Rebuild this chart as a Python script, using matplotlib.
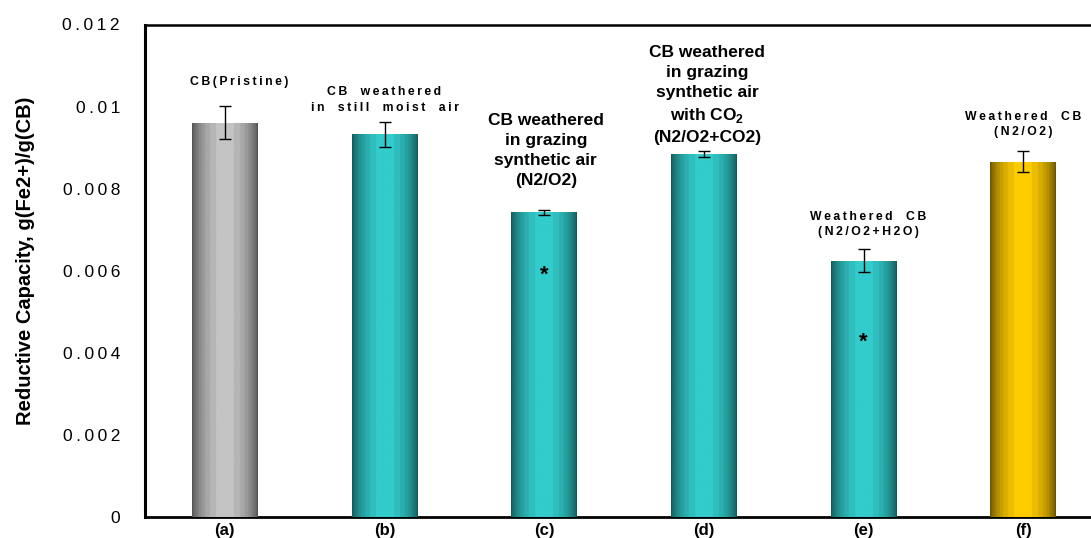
import numpy as np
import matplotlib
matplotlib.use("Agg")
import matplotlib.pyplot as plt
from matplotlib.colors import to_rgb

plt.rcParams['font.family'] = ['Liberation Sans', 'DejaVu Sans']
plt.rcParams['mathtext.fontset'] = 'custom'
plt.rcParams['mathtext.rm'] = 'Liberation Sans'
plt.rcParams['mathtext.bf'] = 'Liberation Sans:bold'

# ---- data ----
categories = ['(a)', '(b)', '(c)', '(d)', '(e)', '(f)']
values = [0.00961, 0.00932, 0.00742, 0.00885, 0.00624, 0.00866]
errors = [0.00041, 0.00031, 0.00005, 0.00007, 0.00028, 0.00026]
bar_labels = [
    'CB(Pristine)',
    'CB weathered\nin still moist air',
    'CB weathered\nin grazing\nsynthetic air\n(N2/O2)',
    'CB weathered\nin grazing\nsynthetic air\nwith CO$_\\mathbf{2}$\n(N2/O2+CO2)',
    'Weathered CB\n(N2/O2+H2O)',
    'Weathered CB\n(N2/O2)',
]
spaced_label = [True, True, False, False, True, True]
significant = [False, False, True, False, True, False]
yticks = [0, 0.002, 0.004, 0.006, 0.008, 0.01, 0.012]
ytick_labels = ['0', '0.002', '0.004', '0.006', '0.008', '0.01', '0.012']
ylabel = 'Reductive Capacity, g(Fe2+)/g(CB)'

# color schemes (edge, center)
schemes = {
    'gray': ('#505050', '#c4c4c4'),
    'teal': ('#145656', '#33cccc'),
    'gold': ('#665000', '#ffcc00'),
}
bar_schemes = ['gray', 'teal', 'teal', 'teal', 'teal', 'gold']

# label anchor positions (data coords) for annotations
label_pos = [(0.09, 0.01059), (1.0, 0.01016), (2.01, 0.00894),
             (3.02, 0.01029), (4.03, 0.00712), (5.0, 0.00957)]
star_pos = {2: 0.00590, 4: 0.00425}


def spaced(s, word_extra=True):
    thin = '\u2009'
    out = []
    for line in s.split('\n'):
        if word_extra:
            line = line.replace(' ', ' \u2009')
        out.append(thin.join(line))
    return '\n'.join(out)


fig = plt.figure(figsize=(10.91, 5.38), dpi=100)
W, H = 1091, 538
ax = fig.add_axes([145 / W, (H - 517) / H, (1103 - 145) / W, (517 - 24.5) / H])

x = np.arange(len(categories))
bars = ax.bar(x, values, width=0.41, color='none', edgecolor='none', zorder=2)
ax.errorbar(x, values, yerr=errors, fmt='none', ecolor='black',
            elinewidth=1.0, capsize=4.5, capthick=1.0, zorder=4)

# gradient fill for bars
t = np.linspace(0, 1, 200)
prof = np.clip(np.sin(np.pi * t) ** 0.7, 0, 1)
prof = np.round(prof * 8) / 8  # banding
for rect, sch in zip(bars, bar_schemes):
    c0 = np.array(to_rgb(schemes[sch][0]))
    c1 = np.array(to_rgb(schemes[sch][1]))
    img = c0[None, :] + (c1 - c0)[None, :] * prof[:, None]
    img = img[None, :, :]
    bx, bw, bh = rect.get_x(), rect.get_width(), rect.get_height()
    im = ax.imshow(img, extent=[bx, bx + bw, 0, bh], aspect='auto',
                   interpolation='bilinear', zorder=3)
    im.set_clip_path(rect)

ax.set_xlim(-0.5, len(categories) - 0.5)
ax.set_ylim(0, 0.012)

# annotations
for i, (lab, sp) in enumerate(zip(bar_labels, spaced_label)):
    px, py = label_pos[i]
    if sp:
        ax.text(px, py, spaced(lab), ha='center', va='center', fontsize=8.8,
                fontweight='bold', linespacing=1.35, zorder=5)
    else:
        ax.text(px, py, lab, ha='center', va='center', fontsize=12.5,
                fontweight='bold', linespacing=1.42, zorder=5)
for i, sig in enumerate(significant):
    if sig:
        ax.text(x[i], star_pos[i], '*', ha='center', va='center',
                fontsize=16, fontweight='bold', zorder=5)

ax.set_xticks(x)
ax.set_xticklabels(categories, fontsize=12, fontweight='bold')
ax.set_yticks(yticks)
ax.set_yticklabels([spaced(s, False) for s in ytick_labels], fontsize=12.5)
ax.tick_params(axis='both', length=0)
ax.tick_params(axis='x', pad=4)
ax.tick_params(axis='y', pad=18)
ax.set_ylabel(ylabel, fontsize=14.5, fontweight='bold')
ax.yaxis.set_label_coords(-0.115, 0.52)

ax.spines['left'].set_linewidth(2.2)
ax.spines['bottom'].set_linewidth(2.0)
ax.spines['top'].set_linewidth(1.8)
ax.spines['right'].set_linewidth(1.8)

fig.savefig('out.png', dpi=100)
